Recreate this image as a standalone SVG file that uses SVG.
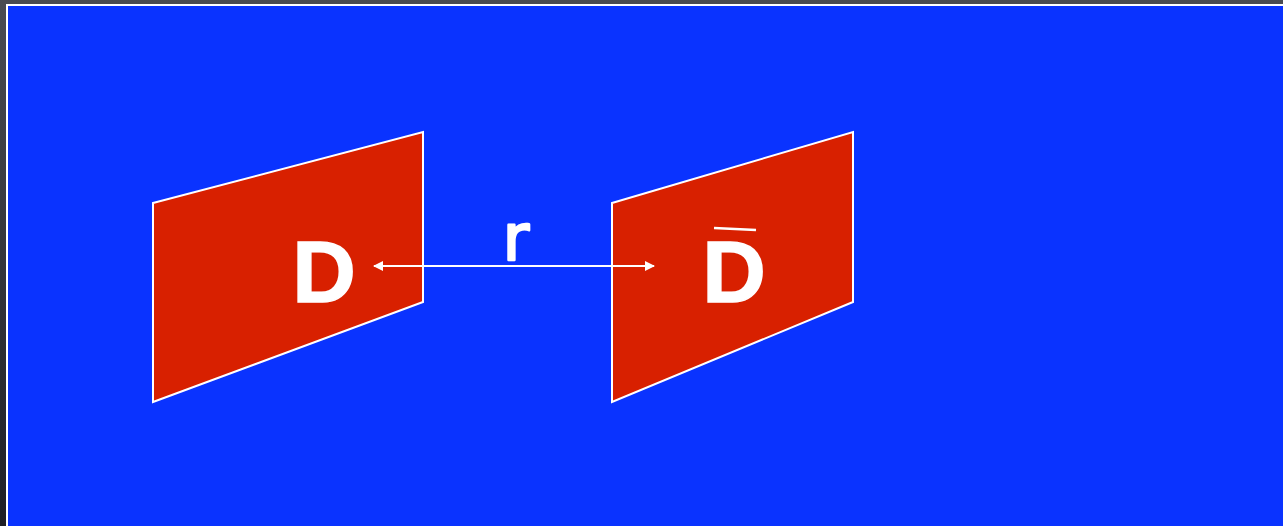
<svg xmlns="http://www.w3.org/2000/svg" width="1283" height="526" viewBox="0 0 1283 526">
<defs>
<linearGradient id="bg" x1="0" y1="0" x2="0" y2="1">
<stop offset="0" stop-color="#4a4c52"/>
<stop offset="1" stop-color="#1e1f26"/>
</linearGradient>
<marker id="ah" viewBox="0 0 10 10" refX="9" refY="5" markerWidth="5" markerHeight="5" orient="auto-start-reverse" markerUnits="strokeWidth">
<path d="M0,0 L10,5 L0,10 Z" fill="#ffffff"/>
</marker>
<style>
.panel{fill:#d82000;stroke:#ffffff;stroke-width:2}
.lbl{font-family:"Liberation Sans",Arial,sans-serif;font-weight:bold;font-size:88px;fill:#ffffff;stroke:#ffffff;stroke-width:1.5;text-anchor:middle}
.conn{stroke:#ffffff;stroke-width:2;fill:none}
</style>
</defs>
<rect x="0" y="0" width="1283" height="526" fill="url(#bg)"/>
<rect x="7" y="5" width="1290" height="530" fill="#0a33ff" stroke="#ffffff" stroke-width="2"/>
<g id="node-D">
<polygon class="panel" points="153,203 423,132 423,302 153,402"/>
<text class="lbl" x="324" y="302">D</text>
</g>
<g id="node-Dbar">
<polygon class="panel" points="612,203 853,132 853,302 612,402"/>
<text class="lbl" x="734" y="302">D</text>
<line x1="714" y1="228" x2="756" y2="230" stroke="#ffffff" stroke-width="2.5"/>
</g>
<g id="connectors">
<line class="conn" x1="374" y1="266" x2="654" y2="266" marker-start="url(#ah)" marker-end="url(#ah)"/>
<text x="516" y="260" font-family="DejaVu Sans, sans-serif" font-size="64" fill="#ffffff" stroke="#ffffff" stroke-width="2.5" stroke-linejoin="round" text-anchor="middle">r</text>
</g>
</svg>
